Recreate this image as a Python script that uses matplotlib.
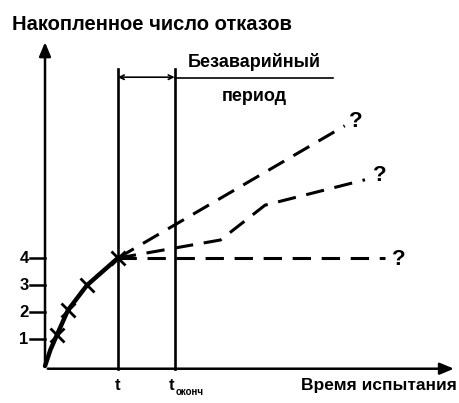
import numpy as np
import matplotlib.pyplot as plt

plt.rcParams['font.family'] = ['Liberation Sans', 'DejaVu Sans']

# data (x in time units, y in failures)
curve_x = [0.0, 0.2, 0.44, 0.85, 1.56, 2.7]
curve_y = [0.0, 0.6, 1.15, 2.07, 3.0, 4.0]
cross_x = [0.44, 0.85, 1.56, 2.7]
cross_y = [1.15, 2.07, 3.0, 4.0]
t_now = 2.7
t_end = 4.8
# three possible futures
fut1_x = [2.7, 11.1]
fut1_y = [4.0, 8.9]
fut2_x = [2.7, 6.5, 8.15, 11.85]
fut2_y = [4.0, 4.67, 5.96, 6.9]
fut3_x = [2.7, 12.6]
fut3_y = [4.0, 4.0]
yticks = [1, 2, 3, 4]

fig = plt.figure(figsize=(4.6, 4.03), dpi=100)
ax = fig.add_axes([0, 0, 1, 1])
ax.set_xlim(-1.667, 15.37)
ax.set_ylim(-1.37, 13.56)
ax.axis('off')

k = 'black'
# axes with arrows
ax.annotate('', xy=(0, 12.1), xytext=(0, -0.1),
            arrowprops=dict(arrowstyle='-|>,head_width=0.25,head_length=0.6',
                            color=k, lw=1.8, mutation_scale=14))
ax.annotate('', xy=(15.25, -0.1), xytext=(0, -0.1),
            arrowprops=dict(arrowstyle='-|>,head_width=0.25,head_length=0.6',
                            color=k, lw=1.8, mutation_scale=14))
for v in yticks:
    ax.plot([-0.55, 0], [v, v], color=k, lw=1.8)
    ax.text(-0.78, v, str(v), ha='center', va='center', fontsize=12, fontweight='bold')

# growth curve
ax.plot(curve_x, curve_y, color=k, lw=3.2, solid_capstyle='round')
ax.plot(cross_x, cross_y, 'x', color=k, ms=10, mew=2)

# vertical lines
ax.plot([t_now, t_now], [-0.1, 11.0], color=k, lw=1.9)
ax.plot([t_end, t_end], [-0.1, 11.0], color=k, lw=1.9)
ax.annotate('', xy=(t_now, 10.7), xytext=(t_end, 10.7),
            arrowprops=dict(arrowstyle='<->', color=k, lw=1.2, mutation_scale=8,
                            shrinkA=0, shrinkB=0))
ax.plot([t_end, 10.67], [10.67, 10.67], color=k, lw=1.2)
ax.text(7.75, 11.25, 'Безаварийный', ha='center', va='center', fontsize=13, fontweight='bold')
ax.text(7.75, 10.0, 'период', ha='center', va='center', fontsize=13, fontweight='bold')

# dashed extrapolations
for xs, ys in [(fut1_x, fut1_y), (fut2_x, fut2_y), (fut3_x, fut3_y)]:
    ax.plot(xs, ys, color=k, lw=2.2, dashes=(6, 3.5))
ax.text(11.5, 9.05, '?', ha='center', va='center', fontsize=16, fontweight='bold')
ax.text(12.4, 7.05, '?', ha='center', va='center', fontsize=16, fontweight='bold')
ax.text(13.1, 3.95, '?', ha='center', va='center', fontsize=16, fontweight='bold')

# labels
ax.text(-1.22, 12.67, 'Накопленное число отказов', ha='left', va='center',
        fontsize=14.5, fontweight='bold')
ax.text(12.35, -0.72, 'Время испытания', ha='center', va='center', fontsize=12.5, fontweight='bold')
ax.text(t_now, -0.72, 't', ha='center', va='center', fontsize=12, fontweight='bold')
ax.text(t_end - 0.1, -0.72, 't', ha='center', va='center', fontsize=12, fontweight='bold')
ax.text(t_end + 0.05, -0.95, 'оконч', ha='left', va='center', fontsize=7, fontweight='bold')

fig.savefig('out.png', dpi=100)
